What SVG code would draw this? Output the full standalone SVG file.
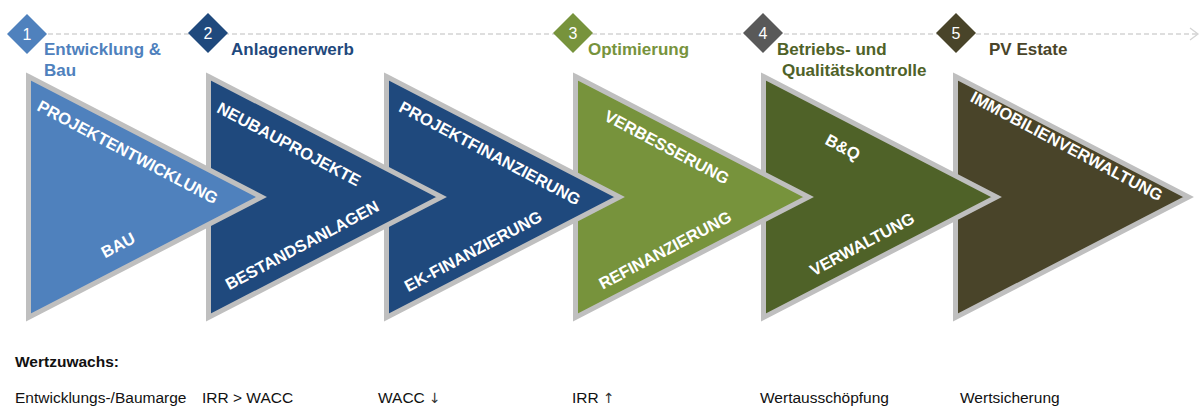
<svg xmlns="http://www.w3.org/2000/svg" width="1201" height="408" viewBox="0 0 1201 408">
<style>
.tri{stroke:#BFBFBF;stroke-width:5;stroke-linejoin:miter;stroke-miterlimit:10}
.in{font-family:"Liberation Sans",Arial,sans-serif;font-weight:bold;font-size:16.5px;fill:#fff;text-anchor:middle}
.num{font-family:"Liberation Sans",Arial,sans-serif;font-size:16px;fill:#fff;text-anchor:middle}
.hd{font-family:"Liberation Sans",Arial,sans-serif;font-weight:bold;font-size:17px}
.bt{font-family:"Liberation Sans",Arial,sans-serif;font-size:15.5px;fill:#111}
.ar{font-family:"DejaVu Sans";font-size:14px;fill:#333}
</style>
<rect width="1201" height="408" fill="#fff"/>
<g id="connectors">
<line x1="40" y1="34" x2="1197" y2="34" stroke="#D4D4D4" stroke-width="1.3" stroke-dasharray="5 3"/>
<polyline points="1190,28 1198,34 1190,40" fill="none" stroke="#D4D4D4" stroke-width="1.3"/>
</g>
<g id="stage6">
<polygon class="tri" fill="#494429" points="955.5,76.5 1188.5,197 955.5,317.5"/>
<text class="in" transform="rotate(28 1064 151.2)" x="1064" y="151.2">IMMOBILIENVERWALTUNG</text>
</g>
<g id="stage5">
<polygon class="tri" fill="#4F6228" points="763.5,76.5 996.5,197 763.5,317.5"/>
<text class="in" transform="rotate(28 840.2 152.2)" x="840.2" y="152.2">B&amp;Q</text>
<text class="in" transform="rotate(-28 864.8 249.2)" x="864.8" y="249.2">VERWALTUNG</text>
</g>
<g id="stage4">
<polygon class="tri" fill="#77933C" points="575.5,76.5 808.5,197 575.5,317.5"/>
<text class="in" transform="rotate(28 664.2 152.2)" x="664.2" y="152.2">VERBESSERUNG</text>
<text class="in" transform="rotate(-28 667.8 255.2)" x="667.8" y="255.2">REFINANZIERUNG</text>
</g>
<g id="stage3">
<polygon class="tri" fill="#1F497D" points="386.5,76.5 619.5,197 386.5,317.5"/>
<text class="in" transform="rotate(28 487.2 158.2)" x="487.2" y="158.2">PROJEKTFINANZIERUNG</text>
<text class="in" transform="rotate(-28 475.8 256.2)" x="475.8" y="256.2">EK-FINANZIERUNG</text>
</g>
<g id="stage2">
<polygon class="tri" fill="#1F497D" points="208.5,76.5 441.5,197 208.5,317.5"/>
<text class="in" transform="rotate(28 286.2 149.2)" x="286.2" y="149.2">NEUBAUPROJEKTE</text>
<text class="in" transform="rotate(-28 304.8 250.2)" x="304.8" y="250.2">BESTANDSANLAGEN</text>
</g>
<g id="stage1">
<polygon class="tri" fill="#4F81BD" points="28.5,76.5 261.5,197 28.5,317.5"/>
<text class="in" transform="rotate(28 125 157.2)" x="125" y="157.2">PROJEKTENTWICKLUNG</text>
<text class="in" transform="rotate(-28 120.8 250.2)" x="120.8" y="250.2">BAU</text>
</g>
<g id="phase1">
<polygon fill="#4F81BD" points="27,14 47,34 27,54 7,34"/>
<text class="num" x="27" y="39.5">1</text>
<text class="hd" fill="#4F81BD" x="44" y="55">Entwicklung &amp;</text>
<text class="hd" fill="#4F81BD" x="44" y="76">Bau</text>
</g>
<g id="phase2">
<polygon fill="#1F497D" points="208,13 228,33 208,53 188,33"/>
<text class="num" x="208" y="39">2</text>
<text class="hd" fill="#1F497D" x="231" y="55">Anlagenerwerb</text>
</g>
<g id="phase3">
<polygon fill="#77933C" points="573,13 593,33 573,53 553,33"/>
<text class="num" x="573" y="39">3</text>
<text class="hd" fill="#77933C" x="588" y="55">Optimierung</text>
</g>
<g id="phase4">
<polygon fill="#595959" points="763,13 783,33 763,53 743,33"/>
<text class="num" x="763" y="39">4</text>
<text class="hd" fill="#4F6228" x="777" y="55">Betriebs- und</text>
<text class="hd" fill="#4F6228" x="782" y="76">Qualitätskontrolle</text>
</g>
<g id="phase5">
<polygon fill="#494429" points="956,13 976,33 956,53 936,33"/>
<text class="num" x="956" y="39">5</text>
<text class="hd" fill="#494429" x="989" y="55">PV Estate</text>
</g>
<g id="wertzuwachs">
<text class="bt" x="15" y="367" font-weight="bold">Wertzuwachs:</text>
<text class="bt" x="15" y="403">Entwicklungs-/Baumarge</text>
<text class="bt" x="202" y="403">IRR &gt; WACC</text>
<text class="bt" x="378" y="403">WACC <tspan class="ar">&#x2193;&#xFE0E;</tspan></text>
<text class="bt" x="572" y="403">IRR <tspan class="ar">&#x2191;&#xFE0E;</tspan></text>
<text class="bt" x="760" y="403">Wertausschöpfung</text>
<text class="bt" x="960" y="403">Wertsicherung</text>
</g>
</svg>
